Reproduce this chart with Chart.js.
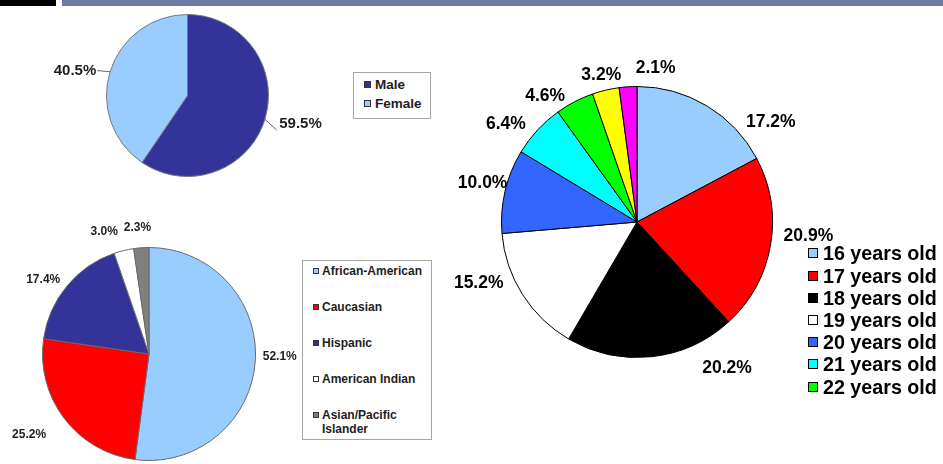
<!DOCTYPE html>
<html>
<head>
<meta charset="utf-8">
<script src="https://cdn.jsdelivr.net/npm/chart.js"></script>
<style>
  body { margin: 0; background: #fff; }
  #page { position: relative; width: 943px; height: 464px; overflow: hidden; background: #fff;
          font-family: "Liberation Sans", Arial, sans-serif; font-weight: bold; }
  canvas { position: absolute; left: 0; top: 0; }
  .bar1 { position: absolute; left: 0; top: 0; width: 56px; height: 6px; background: #000; }
  .bar2 { position: absolute; left: 62px; top: 0; width: 881px; height: 6px; background: #6f78a0; }
  .box { position: absolute; border: 1px solid #a6a6a6; box-sizing: border-box; background: #fff; }
  .row { position: absolute; display: flex; align-items: flex-start; white-space: nowrap; }
  .mk { box-sizing: border-box; flex: none; }
</style>
</head>
<body>
<div id="page">
  <div class="bar1"></div>
  <div class="bar2"></div>
  <canvas id="gender" width="943" height="464"></canvas>
  <canvas id="race" width="943" height="464"></canvas>
  <canvas id="age" width="943" height="464"></canvas>
  <div class="box" style="left:353px;top:72px;width:78px;height:47px"></div>
  <div class="box" style="left:302px;top:260px;width:130px;height:180px"></div>
  <div id="leg1"></div>
  <div id="leg2"></div>
  <div id="leg3"></div>
</div>
<script>
// DU LIEU
var genderLabels = ['Male', 'Female'];
var genderValues = [59.5, 40.5];
var genderColors = ['#333399', '#99ccff'];

var raceLabels = ['African-American', 'Caucasian', 'Hispanic', 'American Indian', 'Asian/Pacific Islander'];
var raceValues = [52.1, 25.2, 17.4, 3.0, 2.3];
var raceColors = ['#99ccff', '#ff0000', '#333399', '#ffffff', '#808080'];

var ageLabels = ['16 years old', '17 years old', '18 years old', '19 years old', '20 years old',
                 '21 years old', '22 years old', '23 years old', '24 years old'];
var ageValues = [17.2, 20.9, 20.2, 15.2, 10.0, 6.4, 4.6, 3.2, 2.1];
var ageColors = ['#99ccff', '#ff0000', '#000000', '#ffffff', '#3366ff', '#00ffff', '#00ff00', '#ffff00', '#ff00ff'];

// nhan phan tram quanh mieng banh
const pieLabels = {
  id: 'pieLabels',
  afterDatasetsDraw(chart, args, opts) {
    const ctx = chart.ctx;
    const meta = chart.getDatasetMeta(0);
    const values = chart.data.datasets[0].data;
    ctx.save();
    ctx.font = opts.font;
    ctx.fillStyle = opts.color;
    ctx.textAlign = 'center';
    ctx.textBaseline = 'middle';
    meta.data.forEach(function (arc, i) {
      const p = arc.getProps(['x', 'y', 'startAngle', 'endAngle', 'outerRadius'], true);
      const mid = (p.startAngle + p.endAngle) / 2;
      const cos = Math.cos(mid), sin = Math.sin(mid);
      const text = values[i].toFixed(1) + '%';
      const w = ctx.measureText(text).width;
      const n = (opts.nudge && opts.nudge[i]) || [0, 0];
      const R = p.outerRadius + opts.pad;
      const tx = p.x + R * cos + w / 2 * cos + n[0];
      const ty = p.y + R * sin + opts.half * sin + n[1];
      if (opts.leader) {
        const ex = cos > 0 ? tx - w / 2 - 2.5 : tx + w / 2 + 1;
        const ey = ty + (sin > 0 ? 6 : 0);
        ctx.beginPath();
        ctx.strokeStyle = opts.leader;
        ctx.lineWidth = 1;
        ctx.moveTo(p.x + p.outerRadius * cos, p.y + p.outerRadius * sin);
        ctx.lineTo(ex, ey);
        ctx.stroke();
      }
      ctx.fillText(text, tx, ty);
    });
    ctx.restore();
  }
};

function makePie(id, labels, values, colors, border, pad, labelOpts) {
  return new Chart(document.getElementById(id), {
    type: 'pie',
    data: {
      labels: labels,
      datasets: [{ data: values, backgroundColor: colors, borderColor: border, borderWidth: 1 }]
    },
    options: {
      responsive: false,
      animation: false,
      events: [],
      layout: { padding: pad },
      plugins: {
        legend: { display: false },
        tooltip: { enabled: false },
        pieLabels: labelOpts
      }
    },
    plugins: [pieLabels]
  });
}

makePie('gender', genderLabels, genderValues, genderColors, '#7a7a7a',
  { left: 106, top: 14, right: 674, bottom: 287 },
  { font: 'bold 15px "Liberation Sans", Arial', color: '#1e1e1e', pad: 12, half: 5.5,
    leader: '#666', nudge: [[3.8, -0.3], [-3.3, 4.1]] });

makePie('race', raceLabels, raceValues, raceColors, '#6a6a6a',
  { left: 42, top: 247, right: 687, bottom: 3 },
  { font: 'bold 12px "Liberation Sans", Arial', color: '#1e1e1e', pad: 6, half: 4.5,
    nudge: [[1.5, -4.7], [-16.6, 9.8], [-6, 0.5], [-15, -8.3], [-2.4, -10]] });

makePie('age', ageLabels, ageValues, ageColors, '#000',
  { left: 501, top: 86, right: 170, bottom: 106 },
  { font: 'bold 17.5px "Liberation Sans", Arial', color: '#000', pad: 8, half: 7,
    nudge: [[47, 29], [5.5, -11.5], [72, -3.7], [-16, -19], [9.5, -5], [-11, 4], [-16.6, 8], [2, -0.6], [29.4, -3.8]] });

// CHU GIAI (html)
function legend(el, labels, colors, o) {
  var html = '';
  for (var i = 0; i < o.count; i++) {
    var top = o.y0 + i * o.step - o.lh / 2;
    html += '<div class="row" style="left:' + o.x + 'px;top:' + top + 'px;font-size:' + o.size +
      'px;line-height:' + o.lh + 'px;color:' + o.color + (o.wrap ? ';white-space:normal;width:' + o.wrap + 'px' : '') + '">' +
      '<span class="mk" style="width:' + o.mk + 'px;height:' + o.mk + 'px;margin-top:' + ((o.lh - o.mk) / 2) +
      'px;margin-right:' + o.gap + 'px;background:' + colors[i] + ';border:1px solid ' + o.mkBorder + '"></span>' +
      '<span>' + labels[i] + '</span></div>';
  }
  document.getElementById(el).innerHTML = html;
}

legend('leg1', genderLabels, genderColors,
  { count: 2, x: 364, y0: 84.5, step: 19, lh: 16, size: 13.5, mk: 7, gap: 4, color: '#1e1e1e', mkBorder: '#333' });
legend('leg2', raceLabels, raceColors,
  { count: 5, x: 313, y0: 271, step: 36, lh: 14.3, size: 12, mk: 6, gap: 3, color: '#1e1e1e', mkBorder: '#333', wrap: 112 });
legend('leg3', ageLabels, ageColors,
  { count: 7, x: 808, y0: 253.3, step: 22.2, lh: 22, size: 19.7, mk: 10, gap: 5, color: '#000', mkBorder: '#000' });
</script>
</body>
</html>
